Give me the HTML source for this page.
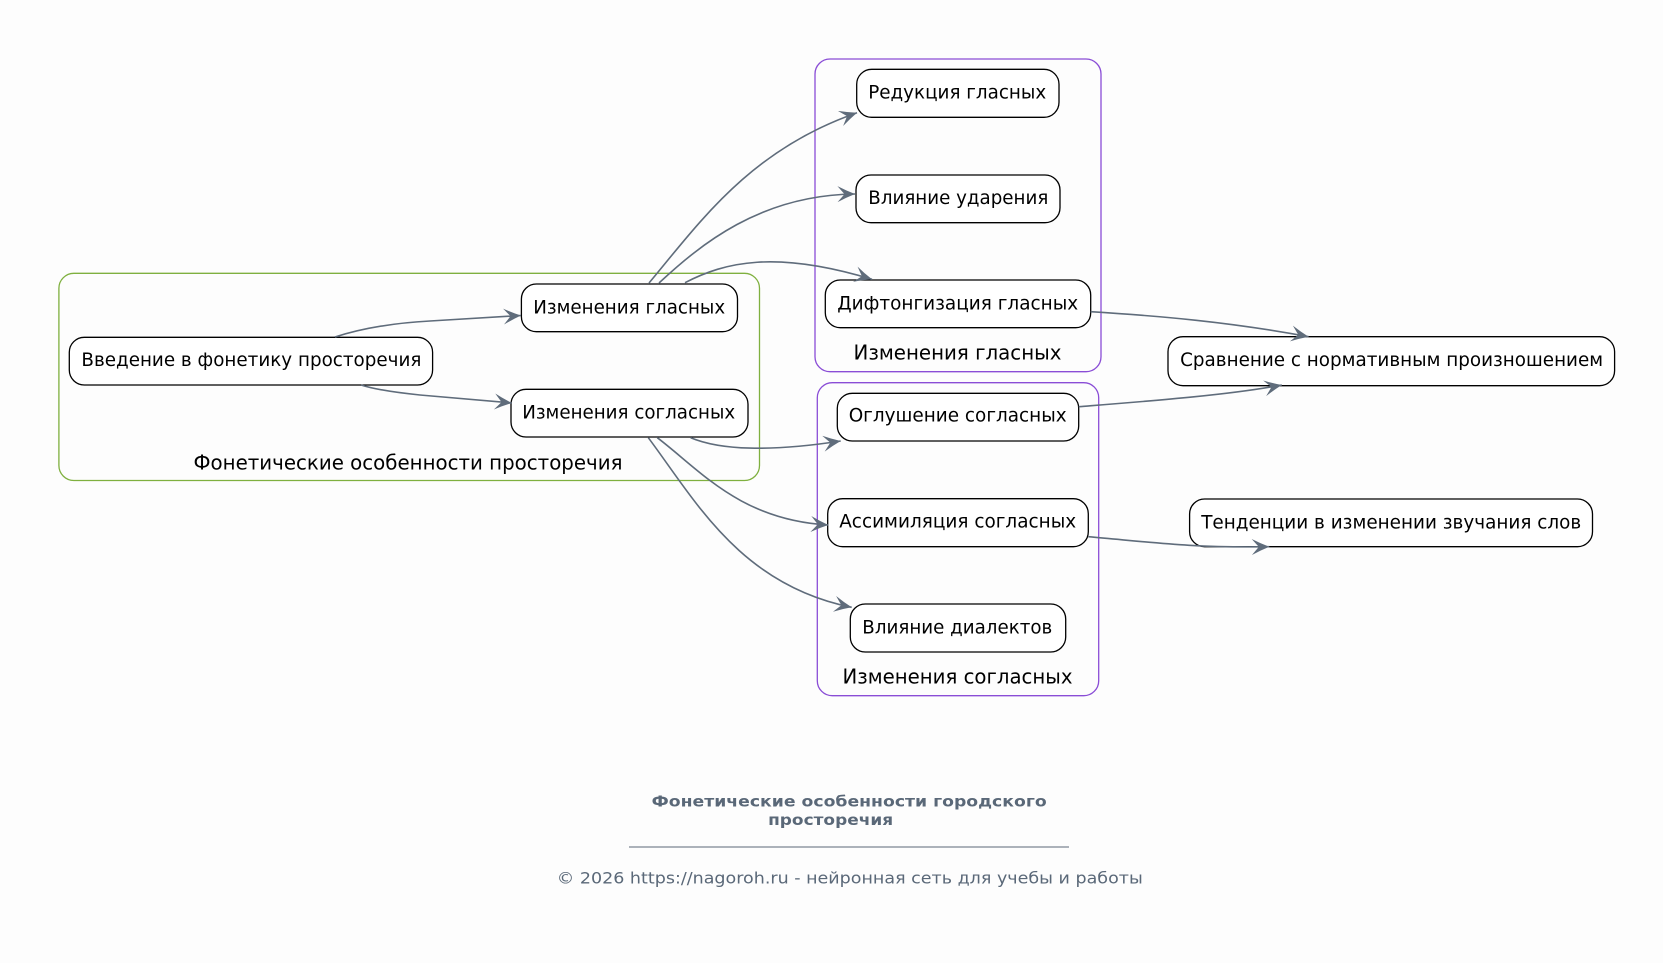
<!DOCTYPE html>
<html>
<head>
<meta charset="utf-8">
<style>
html,body{margin:0;padding:0;background:#fdfdfd;}
svg{display:block;}
text{font-family:"DejaVu Sans","Liberation Sans",sans-serif;}
</style>
</head>
<body>
<svg width="1663" height="963" viewBox="0 0 1663 963" xmlns="http://www.w3.org/2000/svg">
<defs>
<marker id="ah" markerUnits="userSpaceOnUse" markerWidth="22" markerHeight="18" refX="18" refY="8" orient="auto">
<path d="M18,8 Q9,4.5 0.5,0 L7.5,8 L0.5,16 Q9,11.5 18,8 Z" fill="#5f6c7b"/>
</marker>
</defs>
<rect x="0" y="0" width="1663" height="963" fill="#fdfdfd"/>

<!-- clusters -->
<rect x="58.9" y="273.3" width="700.6" height="207.2" rx="15" ry="15" fill="none" stroke="#7fb03f" stroke-width="1.3"/>
<rect x="815" y="59" width="286" height="312.7" rx="15" ry="15" fill="none" stroke="#8a4dd6" stroke-width="1.3"/>
<rect x="817.3" y="382.7" width="281.4" height="313" rx="15" ry="15" fill="none" stroke="#8a4dd6" stroke-width="1.3"/>

<text x="408" y="469.3" text-anchor="middle" font-size="20" textLength="429" lengthAdjust="spacingAndGlyphs" fill="#000">Фонетические особенности просторечия</text>
<text x="957.5" y="359.3" text-anchor="middle" font-size="20" textLength="208" lengthAdjust="spacingAndGlyphs" fill="#000">Изменения гласных</text>
<text x="957.5" y="683.3" text-anchor="middle" font-size="20" textLength="230" lengthAdjust="spacingAndGlyphs" fill="#000">Изменения согласных</text>

<!-- nodes -->
<g fill="#ffffff" stroke="#000" stroke-width="1.3">
<rect x="69.3" y="337.3" width="363.3" height="47.7" rx="15" ry="15"/>
<rect x="521.4" y="284" width="216.1" height="47.7" rx="15" ry="15"/>
<rect x="511" y="389.3" width="237" height="47.7" rx="15" ry="15"/>
<rect x="856.7" y="69.3" width="202.3" height="48" rx="15" ry="15"/>
<rect x="856" y="175" width="204" height="47.7" rx="15" ry="15"/>
<rect x="825.3" y="280" width="265.4" height="47.7" rx="15" ry="15"/>
<rect x="837.3" y="393.3" width="241.4" height="47.7" rx="15" ry="15"/>
<rect x="827.7" y="498.7" width="260.6" height="48" rx="15" ry="15"/>
<rect x="850.3" y="604" width="215.4" height="48" rx="15" ry="15"/>
<rect x="1168" y="336.7" width="446.6" height="49" rx="15" ry="15"/>
<rect x="1189.6" y="499" width="402.9" height="47.7" rx="15" ry="15"/>
</g>

<g font-size="18.5" fill="#000" text-anchor="middle">
<text x="251.4" y="366" textLength="340" lengthAdjust="spacingAndGlyphs">Введение в фонетику просторечия</text>
<text x="629.2" y="313.3" textLength="192" lengthAdjust="spacingAndGlyphs">Изменения гласных</text>
<text x="628.7" y="418.3" textLength="213" lengthAdjust="spacingAndGlyphs">Изменения согласных</text>
<text x="957.2" y="98.3" textLength="178" lengthAdjust="spacingAndGlyphs">Редукция гласных</text>
<text x="958.3" y="204" textLength="180" lengthAdjust="spacingAndGlyphs">Влияние ударения</text>
<text x="957.7" y="309.3" textLength="241" lengthAdjust="spacingAndGlyphs">Дифтонгизация гласных</text>
<text x="957.7" y="421.7" textLength="218" lengthAdjust="spacingAndGlyphs">Оглушение согласных</text>
<text x="957.7" y="527.7" textLength="237" lengthAdjust="spacingAndGlyphs">Ассимиляция согласных</text>
<text x="957.3" y="633.3" textLength="190" lengthAdjust="spacingAndGlyphs">Влияние диалектов</text>
<text x="1391.6" y="366" textLength="423" lengthAdjust="spacingAndGlyphs">Сравнение с нормативным произношением</text>
<text x="1391.2" y="528.3" textLength="380" lengthAdjust="spacingAndGlyphs">Тенденции в изменении звучания слов</text>
</g>

<!-- edges (on top) -->
<g fill="none" stroke="#5f6c7b" stroke-width="1.6" marker-end="url(#ah)">
<path d="M335,337 Q375,324 430,321 L521,315.5"/>
<path d="M361,385 Q380,391 420,395 L512,403"/>
<path d="M649,283 C700,222 750,150 857,112.7"/>
<path d="M659,283 C700,245 760,195 855,194"/>
<path d="M685,282.7 C725,262 775,250 872,279.3"/>
<path d="M1090.7,311.7 C1160,316 1230,322 1308.6,336.7"/>
<path d="M1078.7,406.7 C1150,401 1230,395 1281.8,385"/>
<path d="M1088.3,536.7 C1150,542 1190,548 1269.3,546.7"/>
<path d="M690.7,437.7 C720,450 770,452 840.7,441"/>
<path d="M657.3,437.7 C700,470 740,520 828.3,525"/>
<path d="M648.3,437.7 C695,500 740,585 851.7,607.3"/>
</g>

<!-- footer -->
<g fill="#5a6878" text-anchor="middle">
<text x="849.2" y="806.7" font-size="15.5" font-weight="bold" textLength="395" lengthAdjust="spacingAndGlyphs">Фонетические особенности городского</text>
<text x="830.6" y="825" font-size="15.5" font-weight="bold" textLength="125" lengthAdjust="spacingAndGlyphs">просторечия</text>
<text x="849.8" y="883.3" font-size="16" textLength="586" lengthAdjust="spacingAndGlyphs">© 2026 https://nagoroh.ru - нейронная сеть для учебы и работы</text>
</g>
<line x1="629" y1="847" x2="1069" y2="847" stroke="#5a6878" stroke-width="1"/>
</svg>
</body>
</html>
